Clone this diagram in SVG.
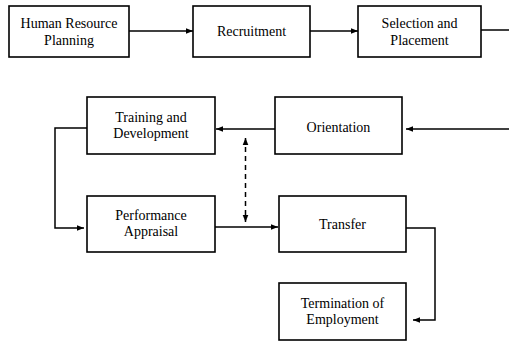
<svg xmlns="http://www.w3.org/2000/svg" width="509" height="342" viewBox="0 0 509 342">
<defs>
<style>
.box{fill:#fff;stroke:#000;stroke-width:1.6}
.t{font-family:"Liberation Serif","Times New Roman",serif;font-size:14px;text-anchor:middle;fill:#000}
.c{fill:none;stroke:#000;stroke-width:1.5}
.d{fill:none;stroke:#000;stroke-width:1.5;stroke-dasharray:5,4}
</style>
<marker id="ah" viewBox="0 0 10 10" refX="10" refY="5" markerWidth="7" markerHeight="7" orient="auto-start-reverse" markerUnits="userSpaceOnUse">
<path d="M0,1 L10,5 L0,9 Z" fill="#000"/>
</marker>
</defs>
<g id="connectors">
<path class="c" d="M129,31 H193" marker-end="url(#ah)"/>
<path class="c" d="M310,31 H358" marker-end="url(#ah)"/>
<path class="c" d="M481,30 H509"/>
<path class="c" d="M509,129 H406" marker-end="url(#ah)"/>
<path class="c" d="M275,129 H216" marker-end="url(#ah)"/>
<path class="c" d="M87,128 H55 V228 H84" marker-end="url(#ah)"/>
<path class="c" d="M215,227 H278" marker-end="url(#ah)"/>
<path class="d" d="M245.5,138 V222" marker-start="url(#ah)" marker-end="url(#ah)"/>
<path class="c" d="M406,228 H435 V320 H413" marker-end="url(#ah)"/>
</g>
<g id="hrp"><rect class="box" x="9" y="6" width="120" height="51"/><text class="t" x="69" y="28">Human Resource</text><text class="t" x="69" y="45">Planning</text></g>
<g id="recruitment"><rect class="box" x="193" y="6" width="117" height="51"/><text class="t" x="251.5" y="36">Recruitment</text></g>
<g id="selection"><rect class="box" x="358" y="6" width="123" height="51"/><text class="t" x="419.5" y="28">Selection and</text><text class="t" x="419.5" y="45">Placement</text></g>
<g id="training"><rect class="box" x="87" y="97" width="128" height="57"/><text class="t" x="151" y="122">Training and</text><text class="t" x="151" y="138">Development</text></g>
<g id="orientation"><rect class="box" x="275" y="97" width="127" height="57"/><text class="t" x="338.5" y="132">Orientation</text></g>
<g id="appraisal"><rect class="box" x="87" y="196" width="128" height="56"/><text class="t" x="151" y="220">Performance</text><text class="t" x="151" y="236">Appraisal</text></g>
<g id="transfer"><rect class="box" x="279" y="196" width="127" height="56"/><text class="t" x="342.5" y="229">Transfer</text></g>
<g id="termination"><rect class="box" x="279" y="283" width="127" height="57"/><text class="t" x="342.5" y="308">Termination of</text><text class="t" x="342.5" y="324">Employment</text></g>
</svg>
